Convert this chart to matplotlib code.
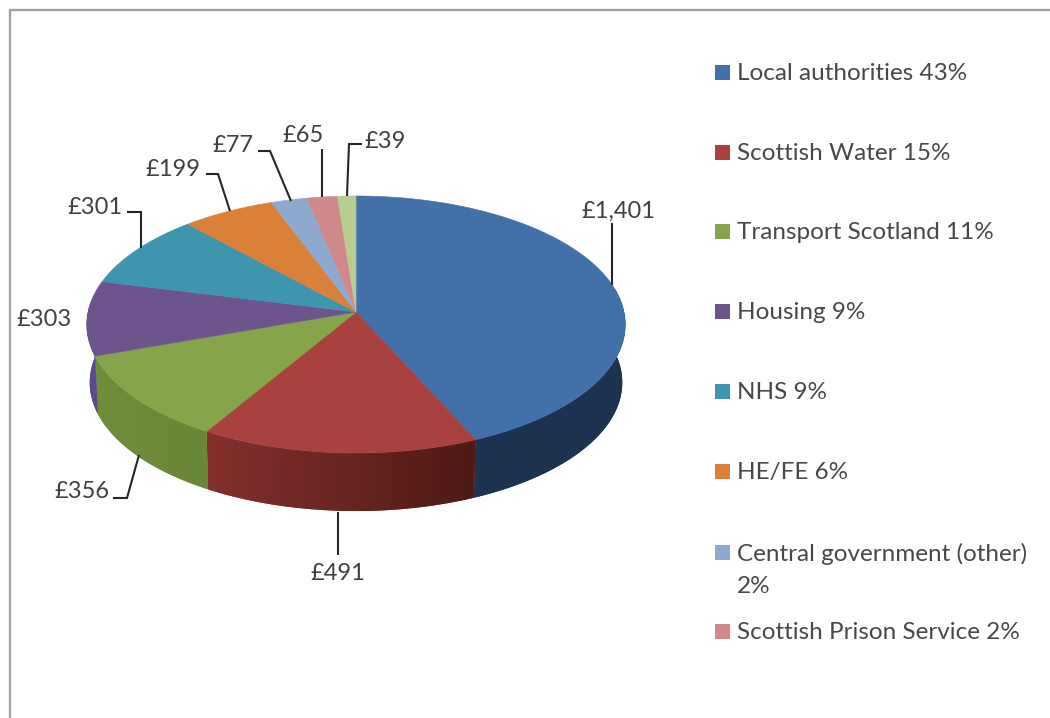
import numpy as np
import matplotlib
matplotlib.use("Agg")
import matplotlib.pyplot as plt
from matplotlib.colors import to_rgb
from matplotlib.patches import Rectangle, Polygon

plt.rcParams['font.family'] = ['Lato', 'DejaVu Sans']

# ---- data ----
categories = ["Local authorities", "Scottish Water", "Transport Scotland", "Housing", "NHS",
              "HE/FE", "Central government (other)", "Scottish Prison Service", "Other"]
values = [1401, 491, 356, 303, 301, 199, 77, 65, 39]
value_labels = ["£1,401", "£491", "£356", "£303", "£301", "£199", "£77", "£65", "£39"]
legend_labels = ["Local authorities 43%", "Scottish Water 15%", "Transport Scotland 11%", "Housing 9%",
                 "NHS 9%", "HE/FE 6%", "Central government (other)\n2%", "Scottish Prison Service 2%"]

# ---- styles ----
top_colors = ["#4271a9", "#a9423f", "#86a44a", "#6e548d", "#3d96ae", "#da8137", "#8ea9d0", "#d0898a", "#b7cc8e"]
side_left = ["#1c3350", "#85302e", "#6f8e3c", "#5c4a8e", "#2b7085", "#a06028", "#6a80a0", "#a06868", "#8a9a6a"]
side_right = ["#1c3350", "#4e1a14", "#6a8638", "#5c4a8e", "#2b7085", "#a06028", "#6a80a0", "#a06868", "#8a9a6a"]

# ---- layout (pixel canvas) ----
W, H = 1050, 718
CX, CY, RX, RY, K = 356, 312, 268, 127.3, 0.0973
BOTTOM_RX, DEPTH = 265, 58
legend_y = [72, 152, 231, 311, 391, 471, 552, 631]
label_pos = [(618, 211), (338, 574), (82, 491), (44, 320), (95, 207), (173, 169), (233, 145), (303, 136), (385, 142)]
leaders = [
    [(612, 223), (612, 285)],
    [(338, 512), (338, 555)],
    [(113, 498), (127, 498), (139, 455)],
    None,
    [(127, 212), (141, 212), (141, 248)],
    [(206, 174), (218, 174), (230, 211)],
    [(258, 151), (270, 151), (291, 201)],
    [(322, 149), (322, 197)],
    [(362, 144), (349, 144), (347, 196)],
]


def project(theta, rx=RX, dy=0.0):
    """Perspective projection of a disc rim; theta runs clockwise from 12 o'clock."""
    u, v = np.sin(theta), np.cos(theta)
    w = 1 + K * v
    return CX + rx * u / w, CY + dy - RY * v / w


fig = plt.figure(figsize=(W / 100, H / 100), dpi=100, facecolor="white")
ax = fig.add_axes([0, 0, 1, 1])
ax.axis("off")

# chart frame: top and left edges are all that show in the crop
ax.plot([9.5, 9.5, W], [H, 10, 10], color="#a2a2a2", lw=1.7, solid_joinstyle="miter")

edges = np.concatenate([[0], np.cumsum(values)]) / np.sum(values) * 2 * np.pi

# rim of the disc (front half only), shaded left to right
for i in range(len(values)):
    a0, a1 = edges[i], edges[i + 1]
    vis0, vis1 = max(a0, np.pi * 0.44), min(a1, np.pi * 1.53)
    if vis1 <= vis0:
        continue
    th = np.linspace(vis0, vis1, 80)
    xa, ya = project(th)
    xb, yb = project(th[::-1], rx=BOTTOM_RX, dy=DEPTH)
    xs, ys = np.r_[xa, xb], np.r_[ya, yb]
    poly = Polygon(np.c_[xs, ys], closed=True, fc=side_left[i], ec="none")
    ax.add_patch(poly)
    ramp = np.linspace(np.array(to_rgb(side_left[i])), np.array(to_rgb(side_right[i])), 256)[None, :, :]
    im = ax.imshow(ramp, extent=(xs.min(), xs.max(), ys.max(), ys.min()), aspect="auto",
                   interpolation="bilinear", zorder=1)
    im.set_clip_path(poly)

# top face
for i in range(len(values)):
    th = np.linspace(edges[i], edges[i + 1], 120)
    x, y = project(th)
    ax.fill(np.r_[CX, x], np.r_[CY, y], color=top_colors[i], lw=0.4, joinstyle="round", zorder=2)

# leaders and value labels
for pos, path, lab in zip(label_pos, leaders, value_labels):
    if path is not None:
        ax.plot(*zip(*path), color="#262626", lw=1.5, solid_joinstyle="miter", solid_capstyle="butt", zorder=3)
    ax.text(pos[0], pos[1], lab, ha="center", va="center", color="#404040", fontsize=17, zorder=4)

# legend
for y, lab, col in zip(legend_y, legend_labels, top_colors):
    ax.add_patch(Rectangle((715, y - 7.5), 15, 15, fc=col, ec="none"))
    ax.text(737, y - 9, lab, ha="left", va="top", color="#484848", fontsize=17.5, linespacing=1.65)

ax.set_xlim(0, W)
ax.set_ylim(H, 0)
fig.savefig("out.png", dpi=100, facecolor="white")
